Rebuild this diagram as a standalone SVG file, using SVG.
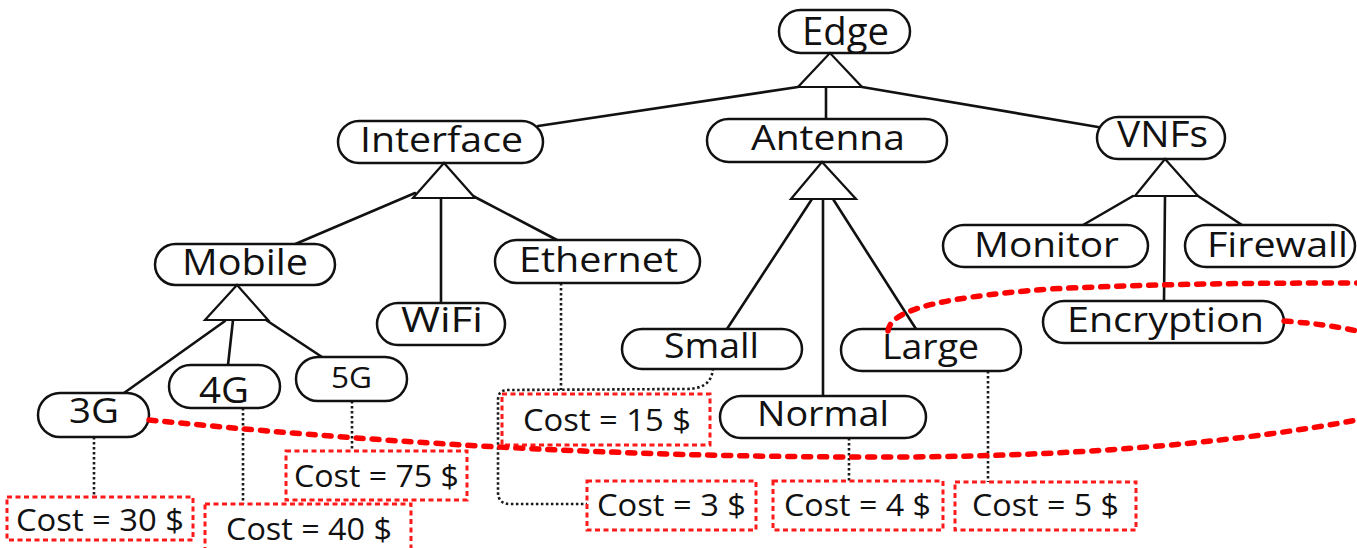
<svg xmlns="http://www.w3.org/2000/svg" width="1357" height="548" viewBox="0 0 1357 548">
  <style>
    .pill { fill: #ffffff; stroke: #111111; stroke-width: 2.5; }
    .tri { fill: #ffffff; stroke: #111111; stroke-width: 2.2; stroke-linejoin: miter; }
    .edge { fill: none; stroke: #111111; stroke-width: 2.6; stroke-linecap: round; }
    .dot { fill: none; stroke: #1a1a1a; stroke-width: 2.6; stroke-dasharray: 2.5 2.5; }
    .cost { fill: #ffffff; stroke: #ff1a1a; stroke-width: 3; stroke-dasharray: 5 3.5; }
    .link { fill: none; stroke: #ff0000; stroke-width: 5.5; stroke-dasharray: 7 9; stroke-linecap: round; }
    .lbl { font-family: "Open Sans", "Noto Sans", "Liberation Sans", sans-serif; fill: #111111; text-anchor: middle; }
    .ct { font-family: "Open Sans", "Noto Sans", "Liberation Sans", sans-serif; fill: #111111; text-anchor: middle; font-size: 31px; }
  </style>

  <!-- tree connectors -->
  <g id="connectors">
    <line class="edge" x1="798" y1="87" x2="538" y2="126"/>
    <line class="edge" x1="826" y1="87" x2="826" y2="119"/>
    <line class="edge" x1="862" y1="87" x2="1098" y2="127"/>

    <line class="edge" x1="415" y1="193" x2="293" y2="245"/>
    <line class="edge" x1="441" y1="198" x2="441" y2="303"/>
    <line class="edge" x1="473" y1="196" x2="557" y2="240"/>

    <line class="edge" x1="225" y1="321" x2="124" y2="393"/>
    <line class="edge" x1="233" y1="320" x2="228" y2="365"/>
    <line class="edge" x1="266" y1="320" x2="322" y2="357"/>

    <line class="edge" x1="812" y1="199" x2="727" y2="329"/>
    <line class="edge" x1="823" y1="199" x2="823" y2="396"/>
    <line class="edge" x1="833" y1="199" x2="916" y2="329"/>

    <line class="edge" x1="1133" y1="196" x2="1083" y2="225"/>
    <line class="edge" x1="1165" y1="196" x2="1164" y2="301"/>
    <line class="edge" x1="1198" y1="196" x2="1242" y2="225"/>

    <!-- cost attachments -->
    <line class="dot" x1="94" y1="437" x2="94" y2="497"/>
    <line class="dot" x1="243" y1="408" x2="243" y2="504"/>
    <line class="dot" x1="352" y1="401" x2="352" y2="451"/>
    <line class="dot" x1="561" y1="283" x2="561" y2="390"/>
    <path class="dot" d="M 713 368 C 712 385, 700 389, 685 389 L 508 390 Q 498 390 498 400 L 498 492 Q 498 504 510 504 L 587 504"/>
    <line class="dot" x1="849" y1="438" x2="849" y2="481"/>
    <line class="dot" x1="988" y1="371" x2="988" y2="482"/>
  </g>

  <!-- feature nodes -->
  <g id="node-edge">
    <rect class="pill" x="779" y="10" width="131" height="43" rx="21.5"/>
    <text class="lbl" x="845.5" y="45" font-size="38" textLength="87" lengthAdjust="spacingAndGlyphs">Edge</text>
    <polygon class="tri" points="830,53 798,87 862,87"/>
  </g>
  <g id="node-interface">
    <rect class="pill" x="338" y="121" width="205" height="42" rx="21"/>
    <text class="lbl" x="441.5" y="152" font-size="35" textLength="163" lengthAdjust="spacingAndGlyphs">Interface</text>
    <polygon class="tri" points="444,163 413,198 475,198"/>
  </g>
  <g id="node-antenna">
    <rect class="pill" x="707" y="119" width="240" height="43" rx="21.5"/>
    <text class="lbl" x="828" y="150" font-size="35" textLength="154" lengthAdjust="spacingAndGlyphs">Antenna</text>
    <polygon class="tri" points="822,162 791,199 856,199"/>
  </g>
  <g id="node-vnfs">
    <rect class="pill" x="1097" y="117" width="128" height="42" rx="21"/>
    <text class="lbl" x="1162.5" y="147" font-size="36" textLength="91" lengthAdjust="spacingAndGlyphs">VNFs</text>
    <polygon class="tri" points="1165,159 1135,196 1198,196"/>
  </g>
  <g id="node-mobile">
    <rect class="pill" x="155" y="244" width="180" height="41" rx="20.5"/>
    <text class="lbl" x="245" y="275" font-size="36" textLength="126" lengthAdjust="spacingAndGlyphs">Mobile</text>
    <polygon class="tri" points="237,285 205,320 268,320"/>
  </g>
  <g id="node-wifi">
    <rect class="pill" x="377" y="303" width="128" height="42" rx="21"/>
    <text class="lbl" x="442" y="332" font-size="35" textLength="82" lengthAdjust="spacingAndGlyphs">WiFi</text>
  </g>
  <g id="node-ethernet">
    <rect class="pill" x="495" y="240" width="205" height="43" rx="21.5"/>
    <text class="lbl" x="598.5" y="272" font-size="35" textLength="159" lengthAdjust="spacingAndGlyphs">Ethernet</text>
  </g>
  <g id="node-3g">
    <rect class="pill" x="38" y="393" width="111" height="44" rx="22"/>
    <text class="lbl" x="94" y="423" font-size="35" textLength="50" lengthAdjust="spacingAndGlyphs">3G</text>
  </g>
  <g id="node-4g">
    <rect class="pill" x="169" y="365" width="111" height="43" rx="21.5"/>
    <text class="lbl" x="224" y="403" font-size="36" textLength="50" lengthAdjust="spacingAndGlyphs">4G</text>
  </g>
  <g id="node-5g">
    <rect class="pill" x="296" y="357" width="111" height="44" rx="22"/>
    <text class="lbl" x="351.5" y="388" font-size="30" textLength="41" lengthAdjust="spacingAndGlyphs">5G</text>
  </g>
  <g id="node-small">
    <rect class="pill" x="622" y="329" width="180" height="40" rx="20"/>
    <text class="lbl" x="711.5" y="358" font-size="34" textLength="95" lengthAdjust="spacingAndGlyphs">Small</text>
  </g>
  <g id="node-large">
    <rect class="pill" x="841" y="329" width="180" height="42" rx="21"/>
    <text class="lbl" x="930.5" y="359" font-size="34" textLength="97" lengthAdjust="spacingAndGlyphs">Large</text>
  </g>
  <g id="node-normal">
    <rect class="pill" x="720" y="396" width="206" height="42" rx="21"/>
    <text class="lbl" x="823" y="426" font-size="35" textLength="132" lengthAdjust="spacingAndGlyphs">Normal</text>
  </g>
  <g id="node-monitor">
    <rect class="pill" x="943" y="225" width="205" height="42" rx="21"/>
    <text class="lbl" x="1046.5" y="257" font-size="35" textLength="145" lengthAdjust="spacingAndGlyphs">Monitor</text>
  </g>
  <g id="node-firewall">
    <rect class="pill" x="1185" y="225" width="170" height="42" rx="21"/>
    <text class="lbl" x="1277.5" y="257" font-size="35" textLength="141" lengthAdjust="spacingAndGlyphs">Firewall</text>
  </g>
  <g id="node-encryption">
    <rect class="pill" x="1043" y="301" width="241" height="42" rx="21"/>
    <text class="lbl" x="1165.5" y="332" font-size="35" textLength="197" lengthAdjust="spacingAndGlyphs">Encryption</text>
  </g>

  <!-- cost attributes -->
  <g id="cost-30">
    <rect class="cost" x="7" y="497" width="186" height="43"/>
    <text class="ct" x="100" y="531" textLength="168" lengthAdjust="spacingAndGlyphs">Cost = 30 $</text>
  </g>
  <g id="cost-40">
    <rect class="cost" x="205" y="504" width="206" height="56"/>
    <text class="ct" x="309" y="540" textLength="166" lengthAdjust="spacingAndGlyphs">Cost = 40 $</text>
  </g>
  <g id="cost-75">
    <rect class="cost" x="286" y="451" width="181" height="49"/>
    <text class="ct" x="376.5" y="487" textLength="165" lengthAdjust="spacingAndGlyphs">Cost = 75 $</text>
  </g>
  <g id="cost-15">
    <rect class="cost" x="502" y="394" width="208" height="51"/>
    <text class="ct" x="607" y="431" textLength="168" lengthAdjust="spacingAndGlyphs">Cost = 15 $</text>
  </g>
  <g id="cost-3">
    <rect class="cost" x="587" y="481" width="169" height="49"/>
    <text class="ct" x="671.5" y="516" textLength="149" lengthAdjust="spacingAndGlyphs">Cost = 3 $</text>
  </g>
  <g id="cost-4">
    <rect class="cost" x="773" y="481" width="170" height="49"/>
    <text class="ct" x="857.5" y="516" textLength="147" lengthAdjust="spacingAndGlyphs">Cost = 4 $</text>
  </g>
  <g id="cost-5">
    <rect class="cost" x="955" y="482" width="181" height="48"/>
    <text class="ct" x="1045.5" y="516" textLength="147" lengthAdjust="spacingAndGlyphs">Cost = 5 $</text>
  </g>

  <!-- cross-tree constraints -->
  <g id="constraints">
    <path class="link" d="M 149 420 C 350 440, 600 458, 900 457 C 1100 456, 1250 440, 1357 420"/>
    <path class="link" d="M 888 331 C 890 312, 930 298, 1050 289 C 1150 284, 1250 283, 1357 283"/>
    <path class="link" d="M 1284 321 C 1310 323, 1335 326, 1357 331"/>
  </g>
</svg>
